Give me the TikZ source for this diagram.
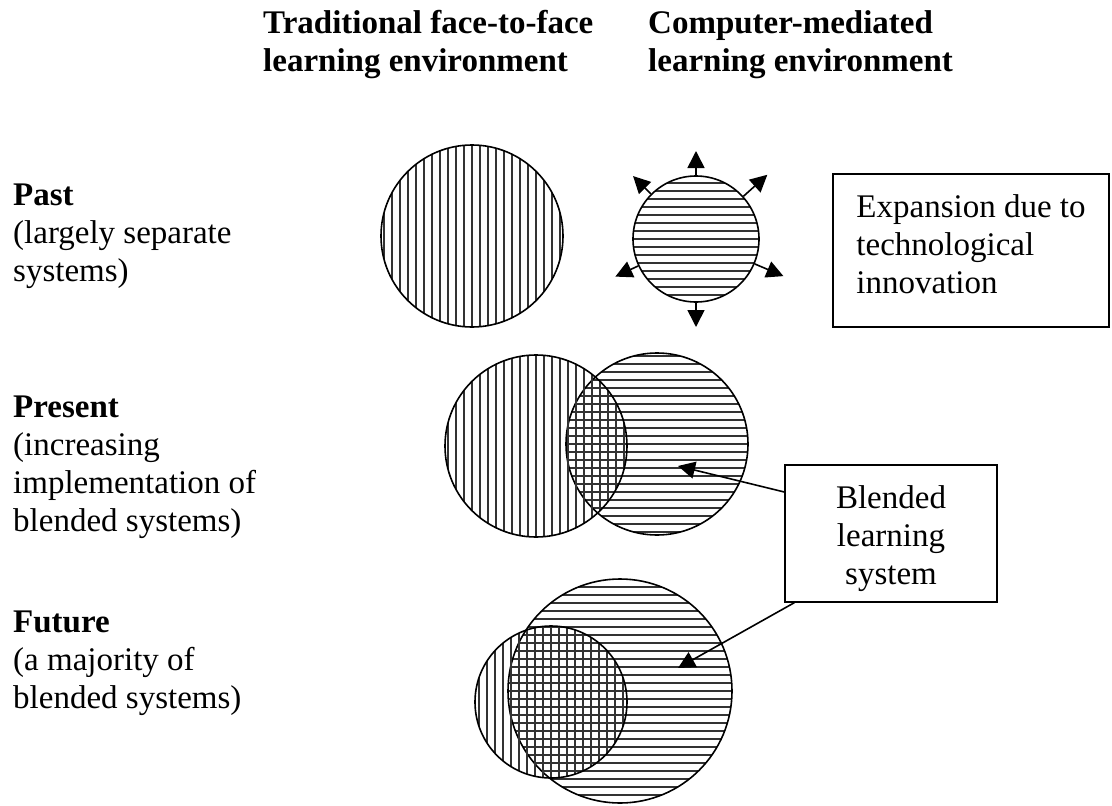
\documentclass[tikz,border=0pt]{standalone}
\usepackage{fontspec}
\setmainfont{Liberation Serif}
\usetikzlibrary{arrows.meta}
\begin{document}
\begin{tikzpicture}[x=1pt,y=-1pt,
  txt/.style={font=\fontsize{33}{38}\selectfont, inner sep=0pt, align=left, anchor=base west},
  head/.style={txt, font=\fontsize{33}{38}\selectfont\bfseries},
  stripe/.style={draw=black!80, line width=1.5pt},
  vstripes/.style={path picture={\foreach \k in {-15,...,15}{\draw[stripe] ([xshift=\k*8pt]path picture bounding box.north) -- ([xshift=\k*8pt]path picture bounding box.south);}}},
  hstripes/.style={path picture={\foreach \k in {-15,...,15}{\draw[stripe] ([yshift=\k*8pt]path picture bounding box.west) -- ([yshift=\k*8pt]path picture bounding box.east);}}},
  disc/.style={circle, draw=black, line width=1.6pt, inner sep=0pt, minimum size=#1},
  box/.style={draw=black, line width=1.4pt, inner sep=0pt, font=\fontsize{33}{38}\selectfont},
  conn/.style={draw=black, line width=1.6pt, -{Triangle[length=17pt,width=17pt]}}
]
\useasboundingbox (0,0) rectangle (1112,806);

% headings (anchor = baseline of last line)
\node[head] (h1) at (263,71) {Traditional face-to-face\\learning environment};
\node[head] (h2) at (648,71) {Computer-mediated\\learning environment};

% row labels
\node[txt] (past) at (13,281) {\textbf{Past}\\(largely separate\\systems)};
\node[txt] (present) at (13,531) {\textbf{Present}\\(increasing\\implementation of\\blended systems)};
\node[txt] (future) at (13,708) {\textbf{Future}\\(a majority of\\blended systems)};

% past circles
\node[disc=182pt, vstripes] (pl) at (472,236) {};
\node[disc=126pt, hstripes] (cm) at (696,239) {};
\coordinate (e1) at ([shift={(90:88pt)}]cm.center);
\coordinate (e2) at ([shift={(135:89pt)}]cm.center);
\coordinate (e3) at ([shift={(42:96pt)}]cm.center);
\coordinate (e4) at ([shift={(205:89pt)}]cm.center);
\coordinate (e5) at ([shift={(337:95pt)}]cm.center);
\coordinate (e6) at ([shift={(270:88pt)}]cm.center);
\draw[conn] (cm.90) -- (e1);
\draw[conn] (cm.135) -- (e2);
\draw[conn] (cm.42) -- (e3);
\draw[conn] (cm.205) -- (e4);
\draw[conn] (cm.337) -- (e5);
\draw[conn] (cm.270) -- (e6);

\node[box, minimum width=276pt, minimum height=153pt, align=left] (exp) at (971,250.5) {Expansion due to\\technological\\innovation\rule[-13pt]{0pt}{13pt}};

% present circles
\node[disc=182pt, hstripes] (pr) at (657,444) {};
\node[disc=182pt, vstripes] (pv) at (536,446) {};

% future circles
\node[disc=224pt, hstripes] (fr) at (620,691) {};
\node[disc=152pt, vstripes] (fv) at (551,702) {};

% blended box
\node[box, minimum width=212pt, minimum height=137pt, align=center] (bl) at (891,533.5) {\rule{0pt}{34pt}Blended\\learning\\system};
\coordinate (pTip) at (678,466);
\coordinate (fTip) at (678,668);
\draw[conn] ([yshift=41.5pt]bl.west) -- (pTip);
\draw[conn] ([xshift=10pt]bl.south west) -- (fTip);
\end{tikzpicture}
\end{document}
